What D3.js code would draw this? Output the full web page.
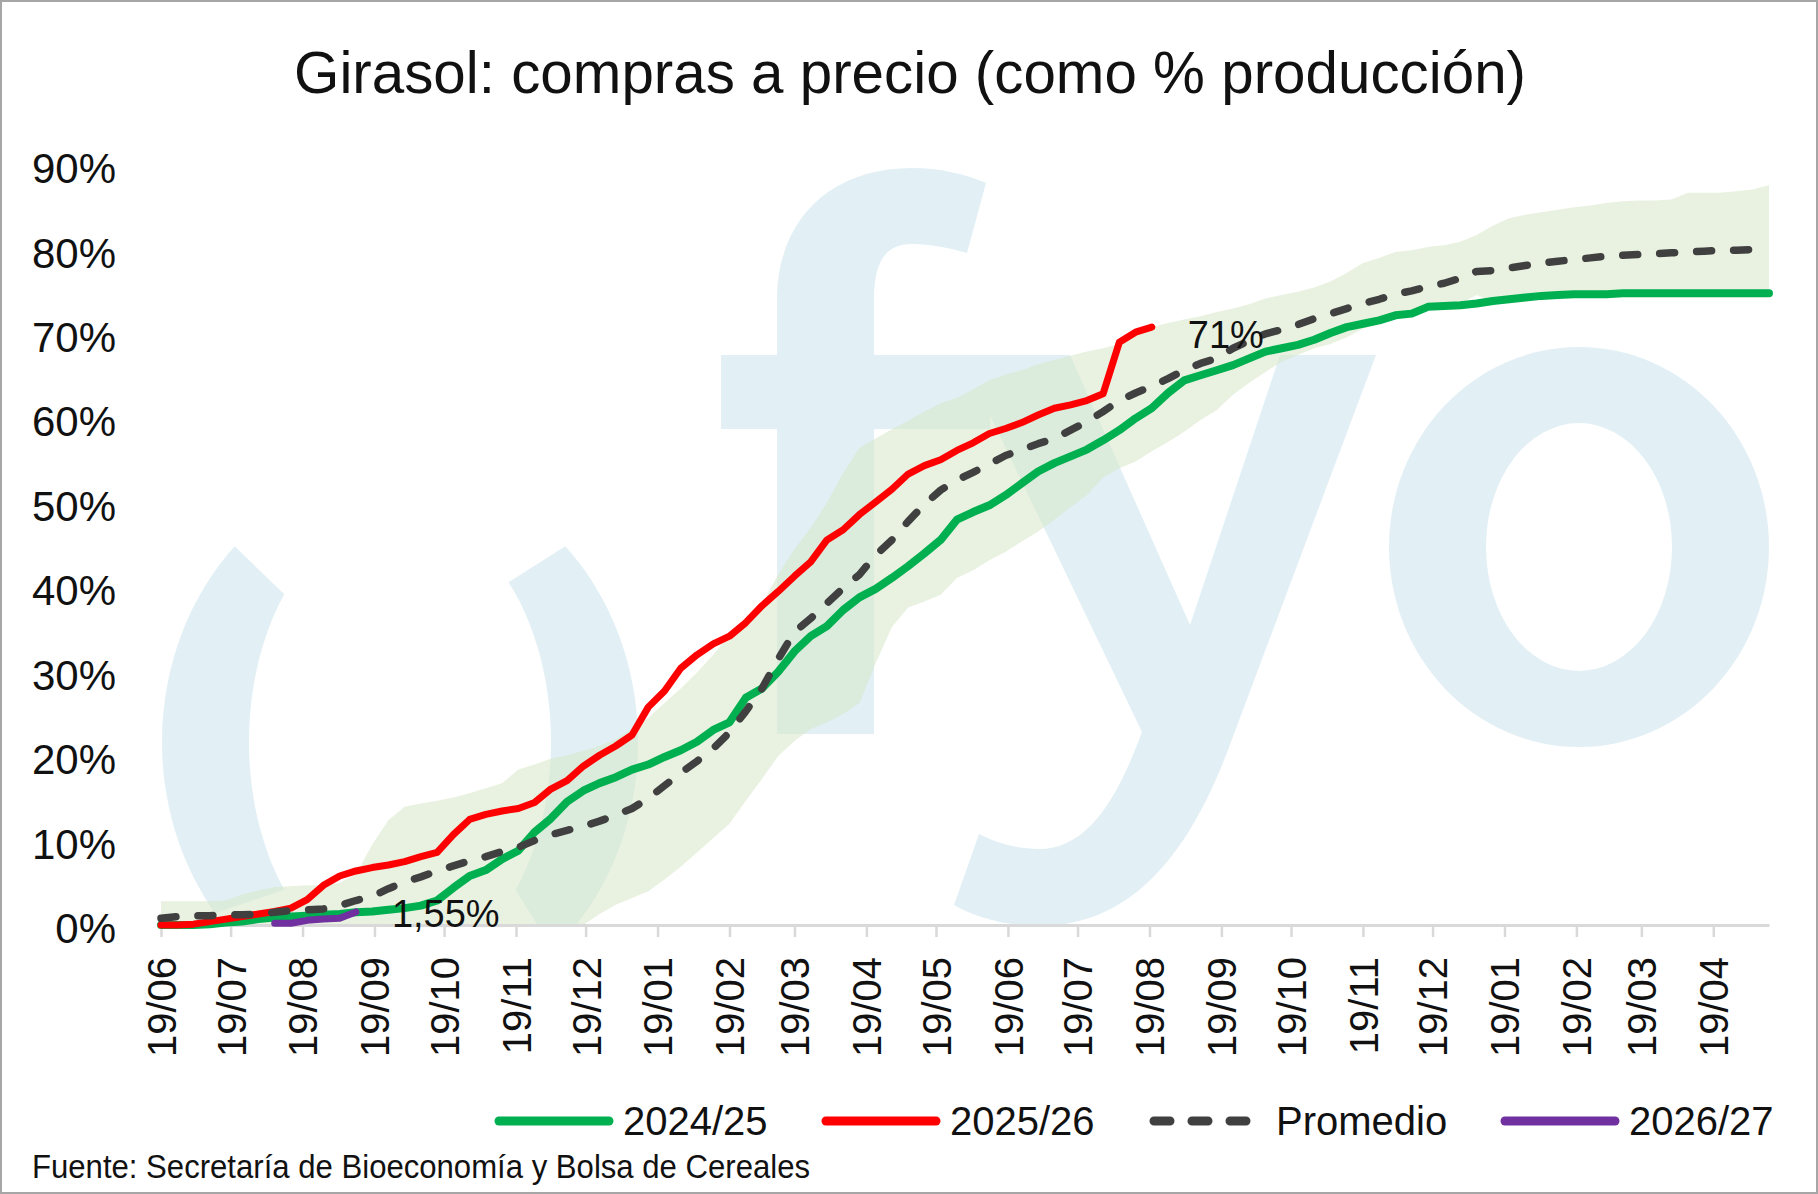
<!DOCTYPE html>
<html>
<head>
<meta charset="utf-8">
<script src="https://cdn.jsdelivr.net/npm/d3@7"></script>
<style>
  body { margin: 0; background: #fff; }
  svg { display: block; }
</style>
</head>
<body>
<div id="chart"></div>
<script>
// semanas (jueves) de la campaña
var fechas = [
  "2025-06-19","2025-06-26","2025-07-03","2025-07-10","2025-07-17","2025-07-24","2025-07-31","2025-08-07","2025-08-14","2025-08-21",
  "2025-08-28","2025-09-04","2025-09-11","2025-09-18","2025-09-25","2025-10-02","2025-10-09","2025-10-16","2025-10-23","2025-10-30",
  "2025-11-06","2025-11-13","2025-11-20","2025-11-27","2025-12-04","2025-12-11","2025-12-18","2025-12-25","2026-01-01","2026-01-08",
  "2026-01-15","2026-01-22","2026-01-29","2026-02-05","2026-02-12","2026-02-19","2026-02-26","2026-03-05","2026-03-12","2026-03-19",
  "2026-03-26","2026-04-02","2026-04-09","2026-04-16","2026-04-23","2026-04-30","2026-05-07","2026-05-14","2026-05-21","2026-05-28",
  "2026-06-04","2026-06-11","2026-06-18","2026-06-25","2026-07-02","2026-07-09","2026-07-16","2026-07-23","2026-07-30","2026-08-06",
  "2026-08-13","2026-08-20","2026-08-27","2026-09-03","2026-09-10","2026-09-17","2026-09-24","2026-10-01","2026-10-08","2026-10-15",
  "2026-10-22","2026-10-29","2026-11-05","2026-11-12","2026-11-19","2026-11-26","2026-12-03","2026-12-10","2026-12-17","2026-12-24",
  "2026-12-31","2027-01-07","2027-01-14","2027-01-21","2027-01-28","2027-02-04","2027-02-11","2027-02-18","2027-02-25","2027-03-04",
  "2027-03-11","2027-03-18","2027-03-25","2027-04-01","2027-04-08","2027-04-15","2027-04-22","2027-04-29","2027-05-06","2027-05-13"
];

var campania2425 = [
  0, 0, 0, 0.1, 0.3, 0.4, 0.7, 0.9, 1.0, 1.1,
  1.2, 1.3, 1.5, 1.6, 1.8, 2.0, 2.3, 2.9, 4.4, 5.8,
  6.5, 7.8, 8.8, 11.0, 12.6, 14.6, 15.9, 16.8, 17.5, 18.4,
  19.0, 19.9, 20.7, 21.7, 23.1, 24.0, 26.9, 28.0, 30.0, 32.4,
  34.2, 35.4, 37.3, 38.8, 39.8, 41.1, 42.5, 44.0, 45.6, 48.0,
  48.9, 49.7, 50.9, 52.3, 53.7, 54.7, 55.5, 56.3, 57.4, 58.6,
  60.0, 61.2, 63.0, 64.5, 65.1, 65.7, 66.3, 67.1, 67.9, 68.3,
  68.7, 69.3, 70.1, 70.8, 71.2, 71.6, 72.2, 72.4, 73.2, 73.3,
  73.4, 73.6, 73.9, 74.1, 74.3, 74.5, 74.6, 74.7, 74.7, 74.7,
  74.8, 74.8, 74.8, 74.8, 74.8, 74.8, 74.8, 74.8, 74.8, 74.8
];

var campania2526 = [
  0, 0, 0.1, 0.4, 0.7, 1.0, 1.3, 1.6, 2.0, 3.0,
  4.7, 5.8, 6.4, 6.8, 7.1, 7.5, 8.1, 8.6, 10.7, 12.5,
  13.1, 13.5, 13.8, 14.5, 16.1, 17.1, 18.8, 20.1, 21.2, 22.5,
  25.8, 27.7, 30.4, 32.0, 33.3, 34.2, 35.8, 37.8, 39.5, 41.3,
  43.0, 45.6, 46.8, 48.6, 50.1, 51.6, 53.4, 54.4, 55.1, 56.2,
  57.1, 58.2, 58.8, 59.5, 60.4, 61.2, 61.6, 62.1, 62.9, 69.0,
  70.2, 70.8
];

var promedio = [
  0.8, 1.0, 1.1, 1.1, 1.2, 1.2, 1.3, 1.5, 1.7, 1.8,
  1.9, 2.3, 2.9, 3.4, 4.3, 5.1, 5.7, 6.4, 7.0, 7.6,
  8.1, 8.7, 9.2, 10.0, 10.7, 11.2, 11.7, 12.3, 13.0, 13.8,
  15.0, 16.5, 18.0, 19.4, 20.9, 22.8, 25.3, 28.0, 31.5, 34.7,
  36.3, 38.1, 39.9, 41.5, 43.8, 45.6, 47.8, 49.8, 51.5, 52.7,
  53.6, 54.6, 55.6, 56.3, 57.0, 57.6, 58.6, 59.6, 60.8, 62.1,
  63.0, 63.8, 64.7, 65.7, 66.5, 67.1, 68.3, 69.2, 70.0, 70.5,
  71.1, 71.8, 72.4, 73.0, 73.6, 74.1, 74.7, 75.1, 75.6, 76.0,
  76.6, 77.4, 77.5, 77.8, 78.1, 78.4, 78.6, 78.8, 79.0, 79.2,
  79.3, 79.4, 79.5, 79.6, 79.7, 79.8, 79.9, 79.9, 80.0, 80.0
];

var campania2627 = [null, null, null, null, null, null, null, 0.2, 0.2, 0.55, 0.7, 0.8, 1.55];

// rango histórico (banda)
var maximo = [
  2.8, 2.8, 2.8, 2.8, 2.9, 3.6, 4.1, 4.5, 4.6, 4.7,
  4.7, 5.0, 6.0, 9.5, 12.4, 14.0, 14.4, 14.7, 15.1, 15.6,
  16.2, 16.8, 18.4, 19.0, 19.7, 20.1, 20.6, 21.2, 22.0, 23.2,
  24.5, 26.3, 28.0, 29.9, 32.0, 34.3, 35.6, 38.0, 41.5, 44.5,
  47.0, 50.0, 53.5, 56.5, 57.6, 58.7, 59.7, 60.8, 61.8, 62.4,
  63.4, 64.5, 65.2, 65.7, 66.4, 66.9, 67.4, 67.9, 68.3, 68.8,
  69.9, 70.8, 71.3, 71.7, 72.1, 72.6, 73.0, 73.5, 74.2, 74.6,
  75.0, 75.5, 76.2, 77.2, 78.4, 79.0, 79.7, 79.9, 80.3, 80.5,
  80.9, 81.7, 82.8, 83.7, 84.1, 84.4, 84.7, 85.0, 85.2, 85.5,
  85.7, 85.8, 85.8, 85.9, 86.7, 86.7, 86.7, 86.9, 87.1, 87.6
];

var minimo = [
  0, 0, 0, 0, 0, 0, 0, 0, 0, 0,
  0, 0, 0, 0, 0, 0, 0, 0, 0, 0,
  0, 0, 0, 0, 0, 0, 0, 1.3, 2.4, 3.2,
  4.0, 5.4, 6.9, 8.6, 10.3, 12.0, 14.7, 17.3, 20.0, 21.8,
  23.2, 24.0, 25.0, 26.3, 31.0, 35.3, 37.6, 38.3, 39.1, 41.1,
  42.0, 43.2, 44.2, 45.4, 46.6, 48.0, 49.5, 50.9, 53.0, 54.1,
  54.9, 56.1, 57.2, 58.4, 59.8, 61.0, 62.8, 64.2, 65.5, 66.7,
  67.5, 68.3, 68.8, 69.6, 70.6, 71.2, 71.8, 72.2, 72.9, 73.1,
  73.6, 74.6, 73.8, 73.9, 74.1, 74.3, 74.4, 74.5, 74.5, 74.5,
  74.6, 74.6, 74.6, 74.6, 74.6, 74.6, 74.6, 74.6, 74.6, 74.6
];

var ticksY = [0, 10, 20, 30, 40, 50, 60, 70, 80, 90];
var series = ["2024/25", "2025/26", "Promedio", "2026/27"];
var colores = ["#00b050", "#ff0000", "#404040", "#7030a0"];

var width = 1818, height = 1194;
var margin = {left: 161, right: 49, top: 165, bottom: 269};
var parse = d3.utcParse("%Y-%m-%d");
var dias = fechas.map(parse);

var svg = d3.select("#chart").append("svg")
    .attr("width", width)
    .attr("height", height);

svg.append("rect")
    .attr("x", 1).attr("y", 1)
    .attr("width", width - 2).attr("height", height - 2)
    .attr("fill", "#fff")
    .attr("stroke", "#a6a6a6")
    .attr("stroke-width", 2);

var x = d3.scaleUtc()
    .domain([dias[0], dias[dias.length - 1]])
    .range([margin.left, width - margin.right]);
var y = d3.scaleLinear()
    .domain([0, 90])
    .range([height - margin.bottom, margin.top]);

// marca de agua "fyo"
svg.append("clipPath").attr("id", "plotClip")
  .append("rect")
    .attr("x", margin.left).attr("y", 100)
    .attr("width", width - margin.right - margin.left)
    .attr("height", height - margin.bottom - 100);

function arco(cx, cy, rxo, ryo, rxi, ryi, o0, o1, i0, i1) {
    var pts = [], rad = Math.PI / 180, k, t;
    for (k = 0; k <= 40; k++) {
        t = (o0 + (o1 - o0) * k / 40) * rad;
        pts.push([cx + rxo * Math.sin(t), cy - ryo * Math.cos(t)]);
    }
    for (k = 40; k >= 0; k--) {
        t = (i0 + (i1 - i0) * k / 40) * rad;
        pts.push([cx + rxi * Math.sin(t), cy - ryi * Math.cos(t)]);
    }
    return "M" + pts.map(function(p) { return p[0].toFixed(1) + "," + p[1].toFixed(1); }).join("L") + "Z";
}

var marca = svg.append("g")
    .attr("clip-path", "url(#plotClip)")
    .attr("fill", "#e2f0f5");
marca.append("path").attr("d", arco(400, 742, 238, 272, 151, 230, -129, -44, -130, -50));
marca.append("path").attr("d", arco(400, 742, 238, 272, 151, 230, 44, 140, 46, 130));
marca.append("path").attr("d",
    "M777,734 L777,429 L721,429 L721,355 L777,355 L777,300 C777,220 830,168 912,168 " +
    "C940,168 965,174 986,183 L967,253 C950,248 930,244 912,244 C885,244 874,262 874,300 " +
    "L874,355 L990,355 L990,429 L874,429 L874,734 Z");
marca.append("path").attr("d",
    "M961,355 L1070,355 L1190,625 L1280,355 L1376,355 L1231,742 C1195,840 1140,926 1039,926 " +
    "C1005,926 975,917 954,905 L979,834 C995,842 1015,849 1039,849 C1085,849 1115,805 1142,732 Z");
marca.append("path")
    .attr("fill-rule", "evenodd")
    .attr("d", "M1389,547 a190,200 0 1,0 380,0 a190,200 0 1,0 -380,0 Z " +
               "M1486,547 a93,124 0 1,0 186,0 a93,124 0 1,0 -186,0 Z");

// banda máx/mín
var area = d3.area()
    .x(function(d, i) { return x(dias[i]); })
    .y0(function(d, i) { return y(minimo[i]); })
    .y1(function(d) { return y(d); });
svg.append("path")
    .datum(maximo)
    .attr("d", area)
    .attr("fill", "#d3e5c3")
    .attr("fill-opacity", 0.5);

// eje X
var meses = d3.utcMonth.range(Date.UTC(2025, 5, 1), Date.UTC(2027, 4, 1))
    .map(function(d) { return d3.utcDay.offset(d, 18); });
var xAxis = svg.append("g")
    .attr("transform", "translate(0," + y(0) + ")")
    .call(d3.axisBottom(x).tickValues(meses).tickFormat(d3.utcFormat("%d/%m")).tickSize(12).tickSizeOuter(0));
xAxis.select(".domain").attr("stroke", "#d9d9d9").attr("stroke-width", 3);
xAxis.selectAll(".tick line").attr("stroke", "#d9d9d9").attr("stroke-width", 2.5);
xAxis.selectAll(".tick text")
    .attr("transform", "rotate(-90)")
    .attr("x", -32).attr("y", 0).attr("dy", "0.36em")
    .style("text-anchor", "end")
    .style("font-family", "'Liberation Sans', Arial, sans-serif")
    .style("font-size", "40px")
    .attr("fill", "#111");

// eje Y
var yAxis = svg.append("g")
    .attr("transform", "translate(" + margin.left + ",0)")
    .call(d3.axisLeft(y).tickValues(ticksY).tickFormat(function(d) { return d + "%"; }).tickSize(0).tickPadding(45));
yAxis.select(".domain").remove();
yAxis.selectAll("text")
    .attr("dy", "0.42em")
    .style("font-family", "'Liberation Sans', Arial, sans-serif")
    .style("font-size", "42px")
    .attr("fill", "#111");

// líneas
var line = d3.line()
    .defined(function(d) { return d != null; })
    .x(function(d, i) { return x(dias[i]); })
    .y(function(d) { return y(d); });

function dibujar(datos, color, ancho, guiones) {
    svg.append("path")
        .datum(datos)
        .attr("d", line)
        .attr("fill", "none")
        .attr("stroke", color)
        .attr("stroke-width", ancho)
        .attr("stroke-linejoin", "round")
        .attr("stroke-linecap", "round")
        .attr("stroke-dasharray", guiones);
}
dibujar(campania2425, colores[0], 8, null);
dibujar(campania2526, colores[1], 7, null);
dibujar(promedio, colores[2], 7.5, "15,22");
dibujar(campania2627, colores[3], 7, null);

// etiquetas de último dato
var ultRojo = campania2526.length - 1;
svg.append("text")
    .attr("x", x(dias[ultRojo]) + 36)
    .attr("y", y(campania2526[ultRojo]) + 21)
    .style("font-family", "'Liberation Sans Narrow', 'Liberation Sans', sans-serif")
    .style("font-size", "38px")
    .attr("fill", "#111")
    .text("71%");
var ultVioleta = campania2627.length - 1;
svg.append("text")
    .attr("x", x(dias[ultVioleta]) + 36)
    .attr("y", y(campania2627[ultVioleta]) + 15)
    .style("font-family", "'Liberation Sans Narrow', 'Liberation Sans', sans-serif")
    .style("font-size", "38px")
    .attr("fill", "#111")
    .text("1,55%");

// título
svg.append("text")
    .attr("x", 910).attr("y", 93)
    .attr("text-anchor", "middle")
    .attr("textLength", 1232)
    .attr("lengthAdjust", "spacingAndGlyphs")
    .style("font-family", "'Liberation Sans', Arial, sans-serif")
    .style("font-size", "59px")
    .attr("fill", "#111")
    .text("Girasol: compras a precio (como % producción)");

// leyenda
var leyX = [499, 826, 1154, 1505];
var leyenda = svg.append("g").selectAll("g")
    .data(series)
    .enter().append("g")
    .attr("transform", function(d, i) { return "translate(" + leyX[i] + ",1121)"; });
leyenda.append("line")
    .attr("x1", 0).attr("x2", 110)
    .attr("stroke", function(d, i) { return colores[i]; })
    .attr("stroke-width", 9)
    .attr("stroke-linecap", "round")
    .attr("stroke-dasharray", function(d, i) { return i === 2 ? "16,22" : null; });
leyenda.append("text")
    .attr("x", function(d, i) { return i === 2 ? 122 : 124; })
    .attr("y", 14)
    .style("font-family", "'Liberation Sans', Arial, sans-serif")
    .style("font-size", "40px")
    .attr("fill", "#111")
    .text(function(d) { return d; });

// fuente
svg.append("text")
    .attr("x", 32).attr("y", 1178)
    .attr("textLength", 778)
    .attr("lengthAdjust", "spacingAndGlyphs")
    .style("font-family", "'Liberation Sans Narrow', 'Liberation Sans', sans-serif")
    .style("font-size", "34px")
    .attr("fill", "#111")
    .text("Fuente: Secretaría de Bioeconomía y Bolsa de Cereales");
</script>
</body>
</html>
